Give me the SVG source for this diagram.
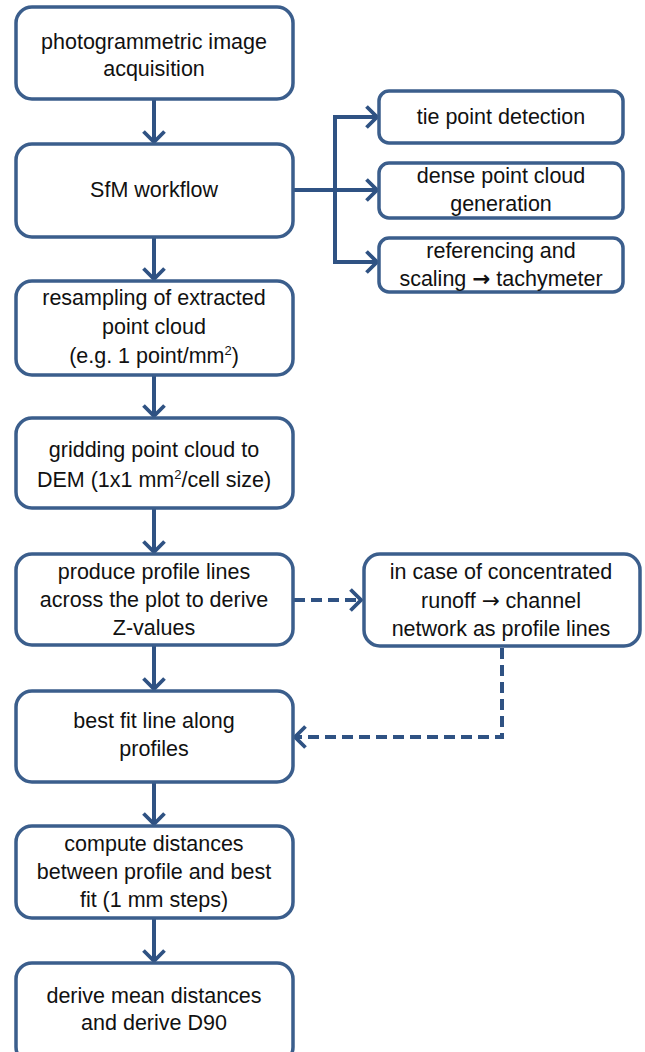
<svg xmlns="http://www.w3.org/2000/svg" width="645" height="1052" viewBox="0 0 645 1052">
<style>
.box{fill:#ffffff;stroke:#3B5E8C;stroke-width:3.5}
.t{font-family:"Liberation Sans",Arial,sans-serif;font-size:21.5px;fill:#111111;text-anchor:middle}
.ar{font-family:"DejaVu Sans",sans-serif}
.c{fill:none;stroke:#2F5283;stroke-width:4}
.d{fill:none;stroke:#2F5283;stroke-width:4;stroke-dasharray:11 6}
</style>
<defs>
<marker id="ah" viewBox="0 0 14 24" refX="12" refY="12" markerWidth="14" markerHeight="24" markerUnits="userSpaceOnUse" orient="auto">
<path d="M1.5,1.5 L12,12 L1.5,22.5" fill="none" stroke="#2F5283" stroke-width="3.8"/>
</marker>
</defs>
<rect width="645" height="1052" fill="#ffffff"/>
<g id="connectors">
<line class="c" x1="154" y1="100" x2="154" y2="142" marker-end="url(#ah)"/>
<line class="c" x1="154" y1="238" x2="154" y2="279" marker-end="url(#ah)"/>
<line class="c" x1="154" y1="376" x2="154" y2="416" marker-end="url(#ah)"/>
<line class="c" x1="154" y1="509" x2="154" y2="552" marker-end="url(#ah)"/>
<line class="c" x1="154" y1="646" x2="154" y2="689" marker-end="url(#ah)"/>
<line class="c" x1="154" y1="783" x2="154" y2="824" marker-end="url(#ah)"/>
<line class="c" x1="154" y1="919" x2="154" y2="961" marker-end="url(#ah)"/>
<line class="c" x1="293" y1="190" x2="377" y2="190" marker-end="url(#ah)"/>
<polyline class="c" points="377,117 335,117 335,262 377,262"/>
<line class="c" x1="335" y1="117" x2="377" y2="117" marker-end="url(#ah)"/>
<line class="c" x1="335" y1="262" x2="377" y2="262" marker-end="url(#ah)"/>
<line class="d" x1="294" y1="600" x2="361" y2="600" marker-end="url(#ah)"/>
<polyline class="d" points="502,648 502,737 295,737" marker-end="url(#ah)"/>
</g>
<g id="n1"><rect class="box" x="16" y="7" width="277" height="92" rx="16"/>
<text class="t" x="154" y="49">photogrammetric image</text><text class="t" x="154" y="76">acquisition</text></g>
<g id="n2"><rect class="box" x="16" y="144" width="277" height="93" rx="16"/>
<text class="t" x="154" y="197">SfM workflow</text></g>
<g id="n3"><rect class="box" x="16" y="281" width="277" height="94" rx="16"/>
<text class="t" x="154" y="305">resampling of extracted</text><text class="t" x="154" y="334">point cloud</text><text class="t" x="154" y="363">(e.g. 1 point/mm<tspan font-size="13" dy="-8">2</tspan><tspan dy="8">)</tspan></text></g>
<g id="n4"><rect class="box" x="16" y="418" width="277" height="90" rx="16"/>
<text class="t" x="154" y="457">gridding point cloud to</text><text class="t" x="154" y="487">DEM (1x1 mm<tspan font-size="13" dy="-8">2</tspan><tspan dy="8">/cell size)</tspan></text></g>
<g id="n5"><rect class="box" x="16" y="554" width="277" height="91" rx="16"/>
<text class="t" x="154" y="579">produce profile lines</text><text class="t" x="154" y="607">across the plot to derive</text><text class="t" x="154" y="635">Z-values</text></g>
<g id="n6"><rect class="box" x="16" y="691" width="277" height="91" rx="16"/>
<text class="t" x="154" y="728">best fit line along</text><text class="t" x="154" y="756">profiles</text></g>
<g id="n7"><rect class="box" x="16" y="826" width="277" height="92" rx="16"/>
<text class="t" x="154" y="851">compute distances</text><text class="t" x="154" y="879">between profile and best</text><text class="t" x="154" y="907">fit (1 mm steps)</text></g>
<g id="n8"><rect class="box" x="16" y="963" width="277" height="100" rx="16"/>
<text class="t" x="154" y="1003">derive mean distances</text><text class="t" x="154" y="1030">and derive D90</text></g>
<g id="r1"><rect class="box" x="379" y="91" width="244" height="52" rx="10"/>
<text class="t" x="501" y="124">tie point detection</text></g>
<g id="r2"><rect class="box" x="379" y="163" width="244" height="55" rx="10"/>
<text class="t" x="501" y="183">dense point cloud</text><text class="t" x="501" y="211">generation</text></g>
<g id="r3"><rect class="box" x="379" y="238" width="244" height="54" rx="10"/>
<text class="t" x="501" y="258">referencing and</text><text class="t" x="501" y="286">scaling <tspan class="ar" font-weight="bold">→</tspan> tachymeter</text></g>
<g id="r4"><rect class="box" x="364" y="554" width="276" height="92" rx="16"/>
<text class="t" x="501" y="579">in case of concentrated</text><text class="t" x="501" y="608">runoff <tspan class="ar">→</tspan> channel</text><text class="t" x="501" y="636">network as profile lines</text></g>
</svg>
